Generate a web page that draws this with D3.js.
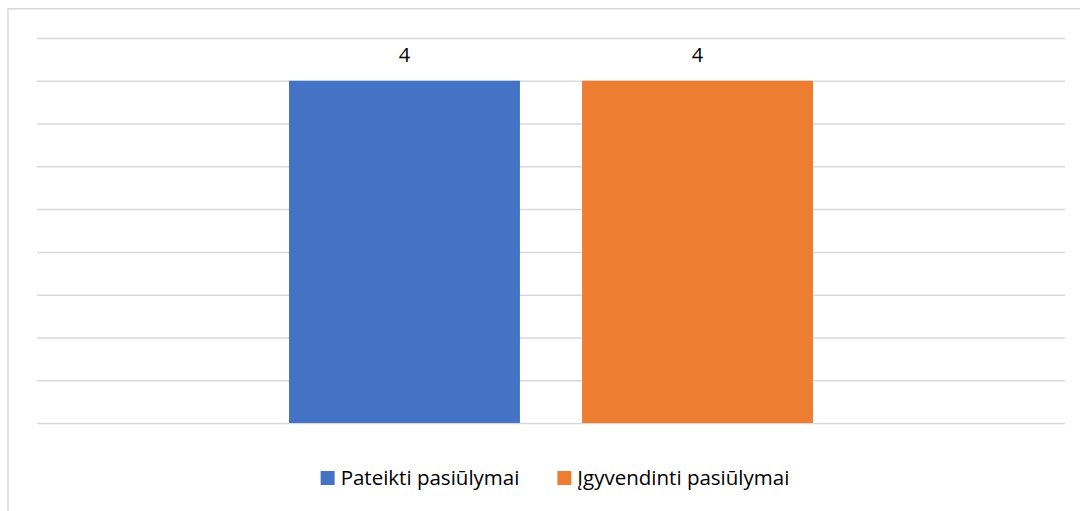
<!DOCTYPE html>
<html>
<head>
<meta charset="utf-8">
<script src="https://cdn.jsdelivr.net/npm/d3@7"></script>
<style>
  body { margin: 0; background: #fff; }
  text { font-family: "Open Sans", Lato, sans-serif; fill: #000; }
</style>
</head>
<body>
<svg id="chart" width="1080" height="511"></svg>
<script>
var categories = [""];
var seriesNames = ["Pateikti pasiūlymai", "Įgyvendinti pasiūlymai"];
var seriesValues = [[4], [4]];
var seriesColors = ["#4472c4", "#ed7d31"];
var tickValues = [0, 0.5, 1, 1.5, 2, 2.5, 3, 3.5, 4, 4.5];

var svg = d3.select("#chart");

var margin = {top: 38, left: 37, right: 15, bottom: 88};
var width = 1080, height = 511;

// chart frame (runs off the right and bottom edges)
svg.append("rect")
    .attr("x", 8).attr("y", 8.75)
    .attr("width", 1100).attr("height", 520)
    .attr("fill", "none")
    .attr("stroke", "#d9d9d9")
    .attr("stroke-width", 1.5);

var y = d3.scaleLinear()
    .domain([0, 4.5])
    .range([height - margin.bottom, margin.top]);

var x0 = d3.scaleBand()
    .domain(categories)
    .range([margin.left, width - margin.right])
    .paddingInner(0)
    .paddingOuter(0.481);

var x1 = d3.scaleBand()
    .domain(d3.range(seriesNames.length))
    .range([0, x0.bandwidth()])
    .paddingInner(0.212)
    .paddingOuter(0);

// gridlines
svg.append("g")
    .attr("transform", "translate(" + margin.left + ",0)")
    .call(d3.axisLeft(y)
        .tickValues(tickValues)
        .tickSize(-(width - margin.right - margin.left))
        .tickFormat(""))
    .call(function(g) { g.select(".domain").remove(); })
    .selectAll("line")
      .attr("stroke", "#d9d9d9")
      .attr("stroke-width", 1.5);

// bars
var groups = svg.selectAll(".group")
    .data(categories)
  .enter().append("g")
    .attr("class", "group")
    .attr("transform", function(d) { return "translate(" + x0(d) + ",0)"; });

seriesNames.forEach(function(name, si) {
  groups.append("rect")
      .attr("x", x1(si))
      .attr("width", x1.bandwidth())
      .attr("y", function(d, ci) { return y(seriesValues[si][ci]); })
      .attr("height", function(d, ci) { return y(0) - y(seriesValues[si][ci]); })
      .attr("fill", seriesColors[si]);

  groups.append("text")
      .attr("x", x1(si) + x1.bandwidth() / 2)
      .attr("y", function(d, ci) { return y(seriesValues[si][ci]) - 19; })
      .attr("text-anchor", "middle")
      .attr("font-size", "20px")
      .text(function(d, ci) { return seriesValues[si][ci]; });
});

// legend
var legend = svg.append("g").attr("class", "legend");
var items = legend.selectAll(".item")
    .data(seriesNames)
  .enter().append("g")
    .attr("class", "item");

items.append("rect")
    .attr("width", 14).attr("height", 14)
    .attr("y", -7)
    .attr("fill", function(d, i) { return seriesColors[i]; });

items.append("text")
    .attr("x", 20)
    .attr("y", 7)
    .attr("font-size", "20.5px")
    .text(function(d) { return d; });

var offsets = [], pos = 0;
items.each(function() {
  offsets.push(pos);
  pos += this.getBBox().width + 38;
});
var total = pos - 38;
var startX = 555 - total / 2;
items.attr("transform", function(d, i) { return "translate(" + (startX + offsets[i]) + ",478)"; });
</script>
</body>
</html>
